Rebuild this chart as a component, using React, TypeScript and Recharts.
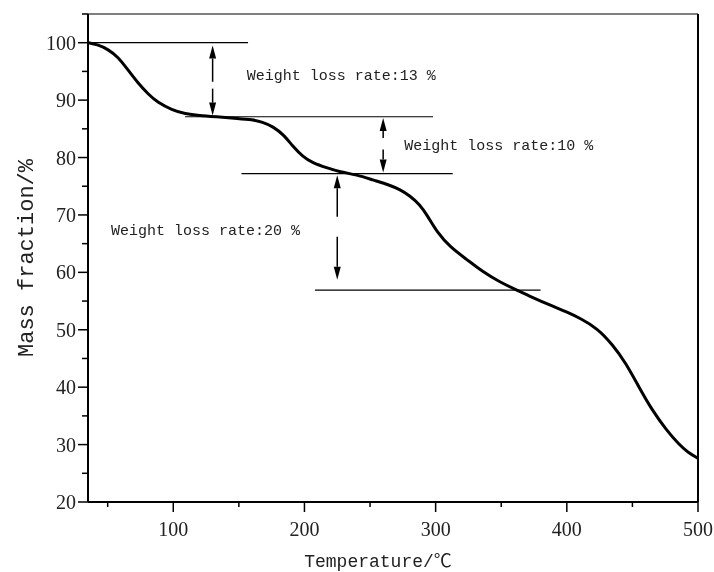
import React from 'react'
import { LineChart, Line, XAxis, YAxis, ReferenceLine, ReferenceDot } from 'recharts'

// temperature (℃) and mass fraction (%)
const temperature: number[] = [35, 42, 50, 58, 65, 73, 81, 88, 99, 109, 120, 132, 150, 160, 168, 176, 184, 191, 199, 206, 217, 227, 240, 252, 265, 273, 280, 288, 294, 301, 311, 324, 336, 349, 362, 374, 387, 400, 411, 423, 435, 445, 455, 465, 476, 486, 492, 500]
const massFraction: number[] = [100, 99.7, 98.9, 97.5, 95.4, 93.0, 91.0, 89.6, 88.3, 87.6, 87.3, 87.1, 86.8, 86.6, 86.2, 85.4, 84.0, 82.0, 80.1, 79.1, 78.2, 77.5, 77.0, 76.1, 75.2, 74.4, 73.4, 71.8, 69.8, 67.0, 64.4, 62.2, 60.1, 58.3, 56.9, 55.6, 54.3, 53.1, 51.9, 50.3, 47.4, 44.2, 40.0, 36.0, 32.5, 29.9, 28.7, 27.6]

const xTicks: number[] = [50, 100, 150, 200, 250, 300, 350, 400, 450, 500]
const yTicks: number[] = [20, 25, 30, 35, 40, 45, 50, 55, 60, 65, 70, 75, 80, 85, 90, 95, 100, 105]

// horizontal guide lines: level and x range
const levels: number[] = [100, 87.1, 77.2, 56.9]
const levelStart: number[] = [35, 109, 152, 208]
const levelEnd: number[] = [157, 298, 313, 380]

// arrows: x, tail, tip
const arrowX: number[] = [130, 130, 260, 260, 225, 225]
const arrowTail: number[] = [93.2, 92.0, 83.4, 81.4, 69.7, 66.2]
const arrowTip: number[] = [99.5, 87.3, 86.9, 77.4, 76.9, 58.7]

const lossLabels: string[] = ['Weight loss rate:13 %', 'Weight loss rate:10 %', 'Weight loss rate:20 %']
const lossLabelX: number[] = [156, 276, 52.5]
const lossLabelY: number[] = [94.1, 82.0, 67.1]

const data = temperature.map((t, i) => ({ t, m: massFraction[i] }))

const MONO = '"Liberation Mono", "Noto Sans CJK SC", monospace'
const SERIF = '"Liberation Serif", serif'

const XTick = (props: any) => {
    const { x, y, payload } = props
    const major = payload.value % 100 === 0
    return (
        <g>
            <line x1={x} y1={y} x2={x} y2={y + (major ? 10 : 5)} stroke="#000" strokeWidth={1.5} />
            {major && (
                <text x={x} y={y + 27} textAnchor="middle" dominantBaseline="central" fontFamily={SERIF} fontSize={20} fill="#222">
                    {payload.value}
                </text>
            )}
        </g>
    )
}

const YTick = (props: any) => {
    const { x, y, payload } = props
    const major = payload.value % 10 === 0
    return (
        <g>
            <line x1={x - (major ? 10 : 6)} y1={y} x2={x} y2={y} stroke="#000" strokeWidth={1.5} />
            {major && payload.value <= 100 && (
                <text x={x - 12} y={y} textAnchor="end" dominantBaseline="central" fontFamily={SERIF} fontSize={20} fill="#222">
                    {payload.value}
                </text>
            )}
        </g>
    )
}

const arrowShape = (props: any) => {
    const { x1, y1, x2, y2 } = props
    const dir = y2 > y1 ? 1 : -1
    const headLen = 13
    return (
        <g>
            <line x1={x1} y1={y1} x2={x2} y2={y2 - dir * headLen} stroke="#000" strokeWidth={1.5} />
            <polygon points={`${x2},${y2} ${x2 - 3.5},${y2 - dir * headLen} ${x2 + 3.5},${y2 - dir * headLen}`} fill="#000" />
        </g>
    )
}

const App: React.FunctionComponent = () => {
    return (
        <div style={{ position: 'fixed', left: 0, top: 8, width: 714, height: 564 }}>
            <LineChart width={714} height={564} data={data} margin={{ top: 6, right: 16, bottom: 0, left: 0 }}>
                <XAxis
                    dataKey="t"
                    type="number"
                    domain={[35, 500]}
                    ticks={xTicks}
                    interval={0}
                    allowDataOverflow
                    height={70}
                    tickSize={0}
                    tickMargin={0}
                    tickLine={false}
                    tick={XTick}
                    axisLine={{ stroke: '#000', strokeWidth: 2 }}
                    label={{ value: 'Temperature/℃', position: 'insideBottom', offset: 5, dx: -15, style: { fontFamily: MONO, fontSize: 18, fill: '#222' } }}
                />
                <YAxis
                    type="number"
                    domain={[20, 105]}
                    ticks={yTicks}
                    interval={0}
                    allowDataOverflow
                    width={88}
                    tickSize={0}
                    tickMargin={0}
                    tickLine={false}
                    tick={YTick}
                    axisLine={{ stroke: '#000', strokeWidth: 2 }}
                    label={{ value: 'Mass fraction/%', angle: -90, position: 'insideLeft', offset: 25, style: { textAnchor: 'middle', fontFamily: MONO, fontSize: 22, fill: '#222' } }}
                />
                <ReferenceLine y={105} stroke="#555" strokeWidth={1.5} />
                <ReferenceLine x={500} stroke="#000" strokeWidth={2} />
                {levels.map((lv, i) => (
                    <ReferenceLine
                        key={`lv-${i}`}
                        segment={[{ x: levelStart[i], y: lv }, { x: levelEnd[i], y: lv }]}
                        stroke="#000"
                        strokeWidth={1.2}
                    />
                ))}
                {arrowX.map((ax, i) => (
                    <ReferenceLine
                        key={`ar-${i}`}
                        segment={[{ x: ax, y: arrowTail[i] }, { x: ax, y: arrowTip[i] }]}
                        shape={arrowShape}
                    />
                ))}
                {lossLabels.map((txt, i) => (
                    <ReferenceDot
                        key={`lb-${i}`}
                        x={lossLabelX[i]}
                        y={lossLabelY[i]}
                        r={0}
                        shape={(p: any) => (
                            <text x={p.cx} y={p.cy} dominantBaseline="central" fontFamily={MONO} fontSize={15} fill="#222">
                                {txt}
                            </text>
                        )}
                    />
                ))}
                <Line
                    type="basis"
                    dataKey="m"
                    stroke="#000"
                    strokeWidth={3}
                    dot={false}
                    isAnimationActive={false}
                />
            </LineChart>
        </div>
    )
}

export default App
